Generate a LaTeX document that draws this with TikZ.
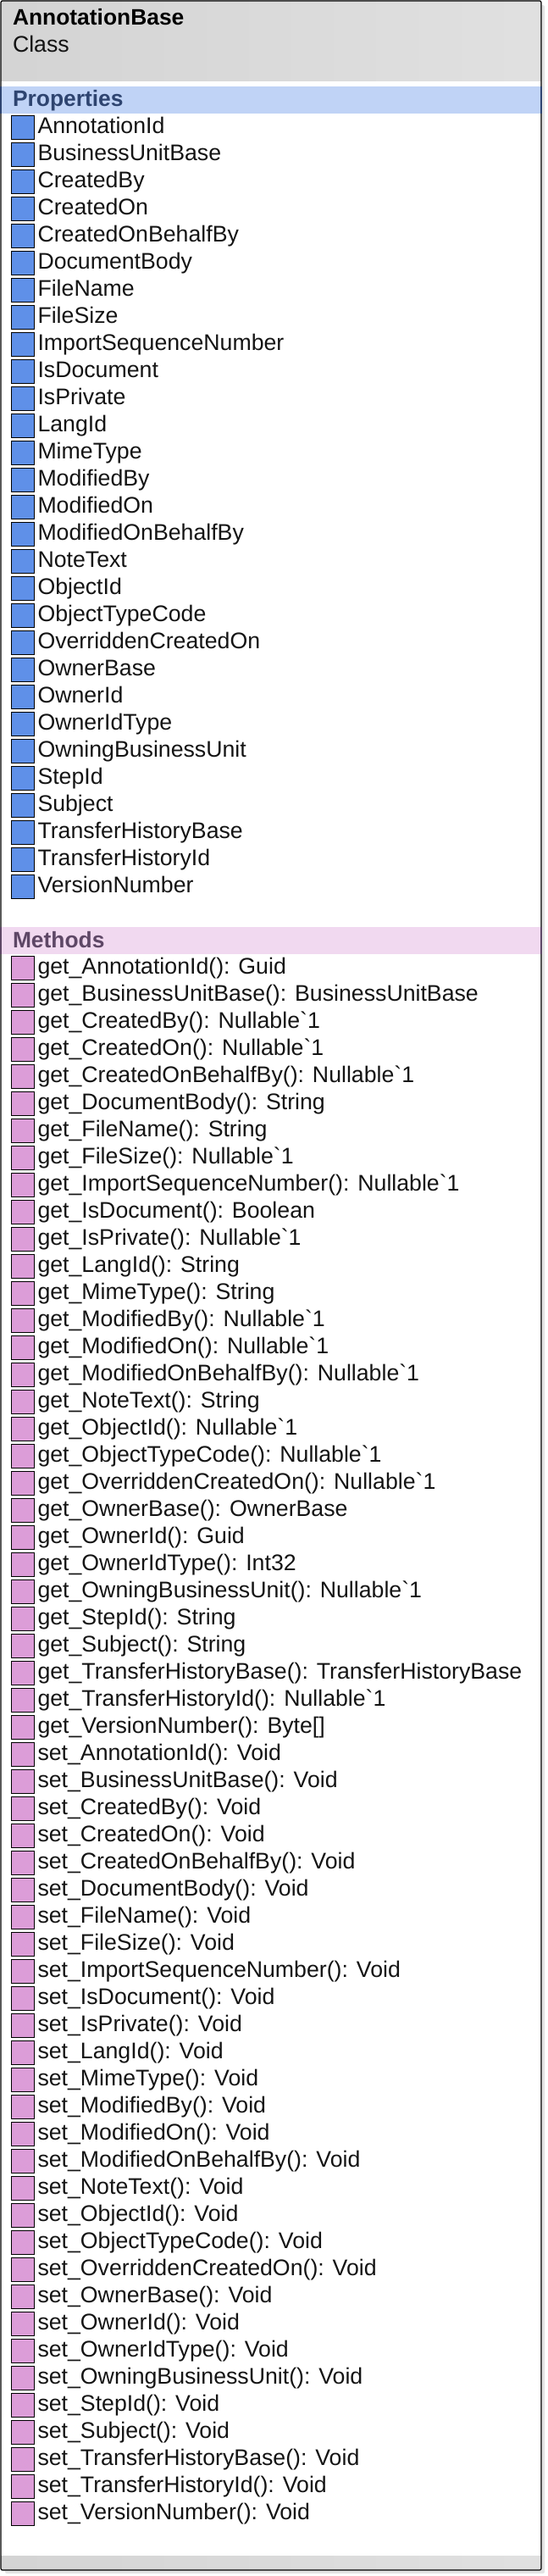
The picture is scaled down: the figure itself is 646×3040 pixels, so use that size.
\documentclass[tikz,border=0pt]{standalone}
\usepackage{fontspec}
\defaultfontfeatures{Ligatures=TeXOff}
\setmainfont{Liberation Sans}[Ligatures=TeXOff]
\definecolor{propsq}{HTML}{5F90E8}
\definecolor{methsq}{HTML}{DC9DD8}
\definecolor{propband}{HTML}{C0D3F6}
\definecolor{methband}{HTML}{F1D9F0}
\definecolor{proptext}{HTML}{2E4470}
\definecolor{methtext}{HTML}{5E4766}
\tikzset{
  x=1pt,y=-1pt,
  rowtext/.style={anchor=base west,inner sep=0pt,outer sep=0pt,font=\fontsize{26.7}{30}\selectfont,text=black!92},
  titletext/.style={rowtext,font=\fontsize{26.4}{30}\selectfont\bfseries,text=black},
  proptitle/.style={rowtext,font=\fontsize{26.4}{30}\selectfont\bfseries,text=proptext},
  methtitle/.style={rowtext,font=\fontsize{26.4}{30}\selectfont\bfseries,text=methtext},
  propicon/.style={draw=black,line width=1pt,fill=propsq},
  methicon/.style={draw=black,line width=1pt,fill=methsq},
}
\begin{document}
\begin{tikzpicture}
\useasboundingbox (0,0) rectangle (646,3040);
% shadow
\fill[black!11,rounded corners=2pt] (6,6) rectangle (643,3037);
% body
\fill[white,rounded corners=2pt] (1,1) rectangle (639,3033);
% header and footer
\shade[left color=black!17,right color=black!12] (1,1) rectangle (639,96);
\shade[left color=black!17,right color=black!12] (1,3016) rectangle (639,3033);
% section bands
\fill[propband] (1,102) rectangle (639,134);
\fill[methband] (1,1094) rectangle (639,1126);
% border
\draw[black,line width=1.2pt,rounded corners=2pt] (1,1) rectangle (639,3033);
\draw[proptext,line width=1.2pt] (1,102) -- (1,134) (639,102) -- (639,134);
\draw[methtext,line width=1.2pt] (1,1094) -- (1,1126) (639,1094) -- (639,1126);
% titles
\node[titletext] (title) at (15,30) {AnnotationBase};
\node[rowtext] (kind) at (15,62) {Class};
\node[proptitle] (props) at (15,126) {Properties};
\node[methtitle] (meths) at (15,1118) {Methods};
% properties
\foreach \t [count=\i from 0] in {AnnotationId,BusinessUnitBase,CreatedBy,CreatedOn,CreatedOnBehalfBy,DocumentBody,FileName,FileSize,ImportSequenceNumber,IsDocument,IsPrivate,LangId,MimeType,ModifiedBy,ModifiedOn,ModifiedOnBehalfBy,NoteText,ObjectId,ObjectTypeCode,OverriddenCreatedOn,OwnerBase,OwnerId,OwnerIdType,OwningBusinessUnit,StepId,Subject,TransferHistoryBase,TransferHistoryId,VersionNumber}{
  \pgfmathsetmacro{\yy}{150.5+32*\i}
  \draw[propicon] (13,\yy-14) rectangle (40.5,\yy+14);
  \node[rowtext] (p\i) at (44.5,\yy+7) {\t};
}
% methods
\foreach \t [count=\i from 0] in {
get\_AnnotationId(): Guid,
get\_BusinessUnitBase(): BusinessUnitBase,
get\_CreatedBy(): Nullable`1,
get\_CreatedOn(): Nullable`1,
get\_CreatedOnBehalfBy(): Nullable`1,
get\_DocumentBody(): String,
get\_FileName(): String,
get\_FileSize(): Nullable`1,
get\_ImportSequenceNumber(): Nullable`1,
get\_IsDocument(): Boolean,
get\_IsPrivate(): Nullable`1,
get\_LangId(): String,
get\_MimeType(): String,
get\_ModifiedBy(): Nullable`1,
get\_ModifiedOn(): Nullable`1,
get\_ModifiedOnBehalfBy(): Nullable`1,
get\_NoteText(): String,
get\_ObjectId(): Nullable`1,
get\_ObjectTypeCode(): Nullable`1,
get\_OverriddenCreatedOn(): Nullable`1,
get\_OwnerBase(): OwnerBase,
get\_OwnerId(): Guid,
get\_OwnerIdType(): Int32,
get\_OwningBusinessUnit(): Nullable`1,
get\_StepId(): String,
get\_Subject(): String,
get\_TransferHistoryBase(): TransferHistoryBase,
get\_TransferHistoryId(): Nullable`1,
get\_VersionNumber(): Byte[],
set\_AnnotationId(): Void,
set\_BusinessUnitBase(): Void,
set\_CreatedBy(): Void,
set\_CreatedOn(): Void,
set\_CreatedOnBehalfBy(): Void,
set\_DocumentBody(): Void,
set\_FileName(): Void,
set\_FileSize(): Void,
set\_ImportSequenceNumber(): Void,
set\_IsDocument(): Void,
set\_IsPrivate(): Void,
set\_LangId(): Void,
set\_MimeType(): Void,
set\_ModifiedBy(): Void,
set\_ModifiedOn(): Void,
set\_ModifiedOnBehalfBy(): Void,
set\_NoteText(): Void,
set\_ObjectId(): Void,
set\_ObjectTypeCode(): Void,
set\_OverriddenCreatedOn(): Void,
set\_OwnerBase(): Void,
set\_OwnerId(): Void,
set\_OwnerIdType(): Void,
set\_OwningBusinessUnit(): Void,
set\_StepId(): Void,
set\_Subject(): Void,
set\_TransferHistoryBase(): Void,
set\_TransferHistoryId(): Void,
set\_VersionNumber(): Void}{
  \pgfmathsetmacro{\yy}{1142.5+32*\i}
  \draw[methicon] (13,\yy-14) rectangle (40.5,\yy+14);
  \node[rowtext] (m\i) at (44.5,\yy+7) {\t};
}
\end{tikzpicture}
\end{document}
